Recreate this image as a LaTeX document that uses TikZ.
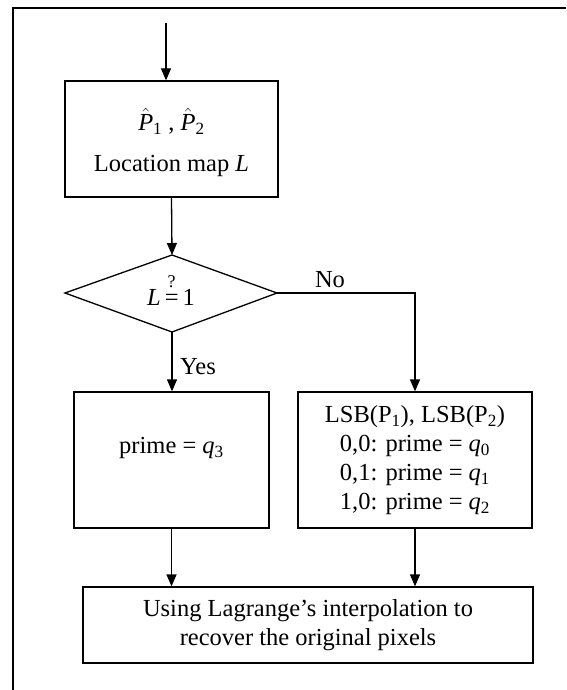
\documentclass[tikz,border=0pt]{standalone}
\usepackage{fontspec}
\setmainfont{Liberation Serif}
\usetikzlibrary{arrows.meta}
\begin{document}
\begin{tikzpicture}[x=1pt,y=-1pt,
  every node/.style={font=\fontsize{24.5}{29}\selectfont},
  box/.style={draw,line width=1.3pt,inner sep=0pt},
  conn/.style={line width=1.3pt,-{Triangle[width=10pt,length=12pt]}},
  plain/.style={line width=1.3pt}]
\useasboundingbox (0,0) rectangle (566,690);
\draw[line width=1.6pt] (13,690) -- (13,8) -- (566,8);
% boxes
\node[box,minimum width=213pt,minimum height=116pt] (b1) at (171.5,139) {};
\node (p) at (171.5,121) {$\hat{\mbox{\itshape P}}$\textsubscript{1} , $\hat{\mbox{\itshape P}}$\textsubscript{2}};
\node (loc) at (171.5,166) {Location map \textit{L}};
% diamond
\coordinate (dl) at (65,293);
\coordinate (dr) at (277,293);
\coordinate (dt) at (172,255);
\coordinate (db) at (172,332);
\draw[plain] (dl) -- (dt) -- (dr) -- (db) -- cycle;
\node (dq) at (171,290) {\textit{L}\,$\stackrel{\raisebox{5pt}{\mbox{\fontsize{18}{20}\selectfont ?}}}{\mbox{=}}$\,1};
\node[box,minimum width=195pt,minimum height=136pt] (b2) at (171.5,460) {};
\node (q3) at (171.5,448) {prime = \textit{q}\textsubscript{3}};
\node[box,minimum width=234pt,minimum height=136pt,align=center] (b3) at (415,460)
  {LSB(P\textsubscript{1}), LSB(P\textsubscript{2})\\0,0: prime = \textit{q}\textsubscript{0}\\0,1: prime = \textit{q}\textsubscript{1}\\1,0: prime = \textit{q}\textsubscript{2}};
\node[box,minimum width=450pt,minimum height=76pt,align=center] (b4) at (308,625)
  {Using Lagrange’s interpolation to\\recover the original pixels};
% labels
\node (no) at (330,280) {No};
\node (yes) at (198,367) {Yes};
% connectors
\coordinate (s0) at (166,23);
\draw[conn] (s0) -- (s0 |- b1.north);
\draw[conn] (b1.south) -- (dt);
\draw[conn] (db) -- (db |- b2.north);
\draw[conn] (dr) -| (b3.north);
\draw[conn] (b2.south) -- (b2.south |- b4.north);
\draw[conn] (b3.south) -- (b3.south |- b4.north);
\end{tikzpicture}
\end{document}
